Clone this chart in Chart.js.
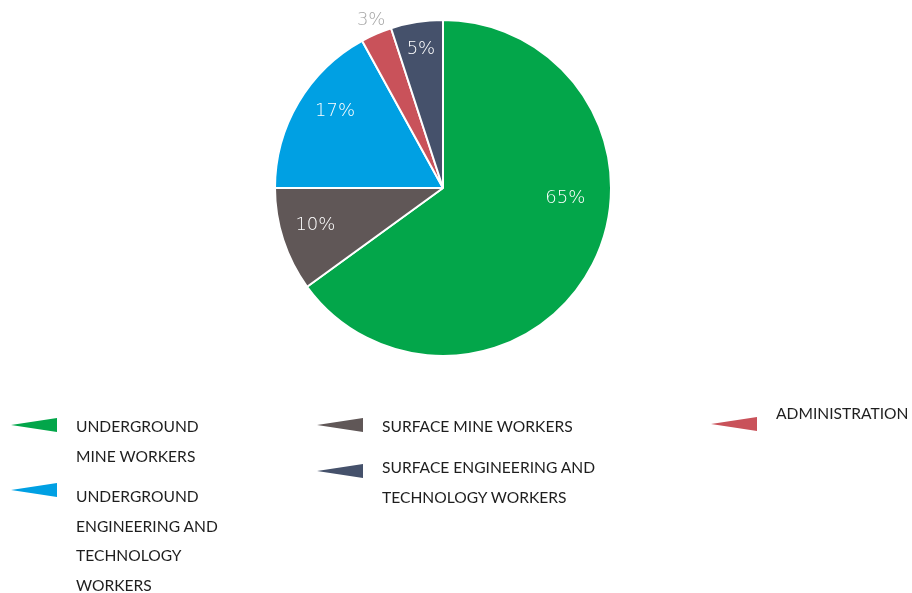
<!DOCTYPE html>
<html>
<head>
<meta charset="utf-8">
<script src="https://cdn.jsdelivr.net/npm/chart.js@4"></script>
<style>
  html, body { margin: 0; padding: 0; background: #fff; }
  #wrap { position: relative; width: 912px; height: 593px; overflow: hidden; }
  #c { position: absolute; left: 0; top: 0; }
  .leg { position: absolute; font-family: "Lato", "Open Sans", sans-serif; font-size: 15.6px; color: #1e1e1e; line-height: 29.5px; white-space: nowrap; }
  .mk { position: absolute; }
</style>
</head>
<body>
<div id="wrap">
  <canvas id="c" width="912" height="593"></canvas>
  <div id="legend"></div>
</div>
<script>
// ---- data ----
const categories = [
  "UNDERGROUND MINE WORKERS",
  "SURFACE MINE WORKERS",
  "UNDERGROUND ENGINEERING AND TECHNOLOGY WORKERS",
  "ADMINISTRATION",
  "SURFACE ENGINEERING AND TECHNOLOGY WORKERS"
];
const shares = [65, 10, 17, 3, 5];
const percentLabels = ["65%", "10%", "17%", "3%", "5%"];
const sliceColors = ["#03a64a", "#605757", "#00a0e3", "#c9525a", "#45516b"];

// legend text split in lines (as in the reference)
const legendLines = [
  ["UNDERGROUND", "MINE WORKERS"],
  ["SURFACE MINE WORKERS"],
  ["UNDERGROUND", "ENGINEERING AND", "TECHNOLOGY", "WORKERS"],
  ["ADMINISTRATION"],
  ["SURFACE ENGINEERING AND", "TECHNOLOGY WORKERS"]
];

// ---- layout (styling, not data) ----
// label placement: [radius fraction, angle offset in degrees from slice middle]
const labelPlace = [[0.73, -22.5], [0.79, 2], [0.79, 5], [1.09, 0.3], [0.84, 0]];
const legendPos = [
  {mx: 11, my: 418, tx: 76, ty: 412},
  {mx: 317, my: 418, tx: 382, ty: 412},
  {mx: 11, my: 483, tx: 76, ty: 482},
  {mx: 711, my: 417, tx: 776, ty: 399},
  {mx: 317, my: 464, tx: 382, ty: 453}
];

const labelPlugin = {
  id: 'sliceLabels',
  afterDatasetsDraw(chart) {
    const ctx = chart.ctx;
    const meta = chart.getDatasetMeta(0);
    ctx.save();
    ctx.font = '200 18px "DejaVu Sans", sans-serif';
    ctx.textAlign = 'center';
    ctx.textBaseline = 'middle';
    meta.data.forEach((arc, i) => {
      const p = arc.getProps(['x', 'y', 'startAngle', 'endAngle', 'outerRadius'], true);
      const mid = (p.startAngle + p.endAngle) / 2 + labelPlace[i][1] * Math.PI / 180;
      const r = p.outerRadius * labelPlace[i][0];
      const x = p.x + Math.cos(mid) * r;
      const y = p.y + Math.sin(mid) * r;
      ctx.fillStyle = labelPlace[i][0] > 1 ? '#a6a6a6' : '#ffffff';
      ctx.fillText(percentLabels[i], x, y + 1);
    });
    ctx.restore();
  }
};

new Chart(document.getElementById('c'), {
  type: 'pie',
  data: {
    labels: categories,
    datasets: [{
      data: shares,
      backgroundColor: sliceColors,
      borderColor: '#ffffff',
      borderWidth: 2
    }]
  },
  options: {
    responsive: false,
    animation: false,
    layout: { padding: { left: 274, right: 300, top: 19, bottom: 236 } },
    plugins: { legend: { display: false }, tooltip: { enabled: false } }
  },
  plugins: [labelPlugin]
});

// ---- HTML legend ----
const legend = document.getElementById('legend');
categories.forEach((name, i) => {
  const pos = legendPos[i];
  const svg = document.createElementNS('http://www.w3.org/2000/svg', 'svg');
  svg.setAttribute('width', '47');
  svg.setAttribute('height', '15');
  svg.setAttribute('class', 'mk');
  svg.style.left = pos.mx + 'px';
  svg.style.top = pos.my + 'px';
  const poly = document.createElementNS('http://www.w3.org/2000/svg', 'polygon');
  poly.setAttribute('points', '0,7 46,0 46,14');
  poly.setAttribute('fill', sliceColors[i]);
  svg.appendChild(poly);
  legend.appendChild(svg);
  const t = document.createElement('div');
  t.className = 'leg';
  t.style.left = pos.tx + 'px';
  t.style.top = pos.ty + 'px';
  t.innerHTML = legendLines[i].join('<br>');
  legend.appendChild(t);
});
</script>
</body>
</html>
